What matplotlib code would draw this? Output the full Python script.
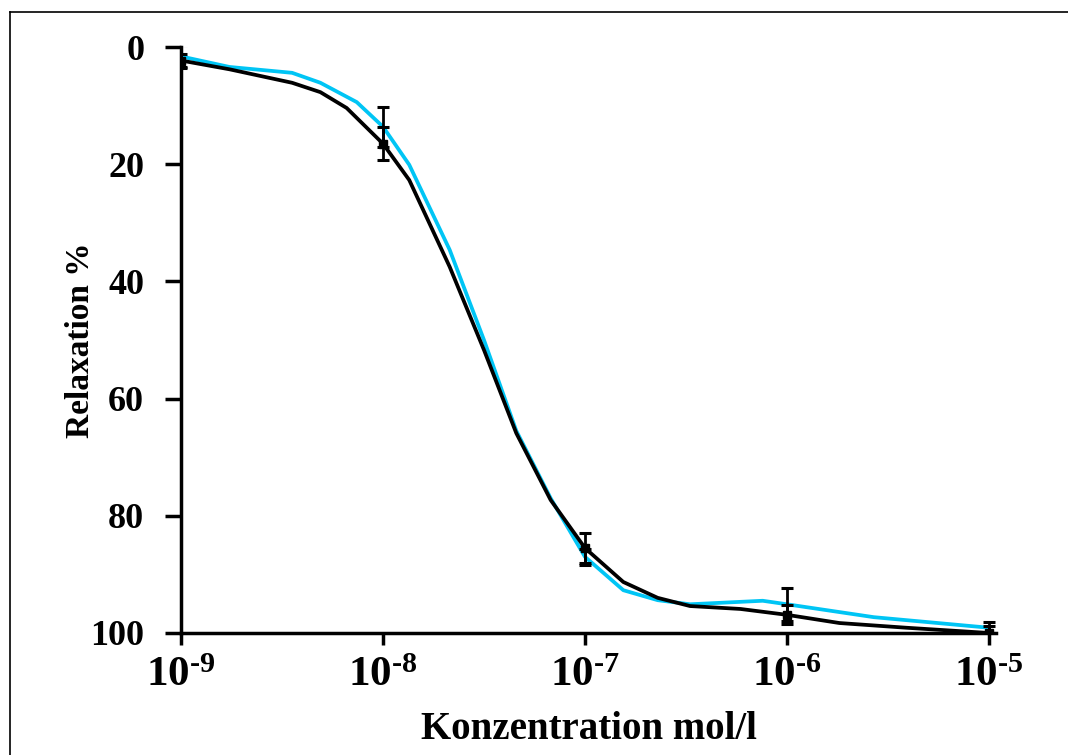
import numpy as np
import matplotlib
matplotlib.use("Agg")
import matplotlib.pyplot as plt
from matplotlib.lines import Line2D
from matplotlib.ticker import FixedLocator, FixedFormatter

# Curve points (log10 of concentration, relaxation %)
black_logc = [-9.0, -8.76, -8.45, -8.31, -8.18, -8.0, -7.87, -7.67, -7.50, -7.34,
              -7.17, -7.0, -6.81, -6.64, -6.48, -6.23, -6.0, -5.74, -5.41, -5.0]
black_rel = [2.3, 3.8, 6.1, 7.7, 10.4, 16.5, 22.7, 37.5, 51.7, 65.9,
             77.3, 85.5, 91.3, 94.0, 95.4, 95.9, 96.9, 98.3, 99.1, 100.0]

cyan_logc = [-9.0, -8.76, -8.45, -8.31, -8.13, -8.0, -7.87, -7.67, -7.50, -7.34,
             -7.17, -7.0, -6.81, -6.64, -6.48, -6.12, -6.0, -5.57, -5.0]
cyan_rel = [1.6, 3.4, 4.4, 6.1, 9.4, 13.6, 20.1, 34.6, 50.0, 65.5,
            77.0, 87.0, 92.7, 94.4, 95.1, 94.5, 95.1, 97.3, 99.1]

# Measured points with error bars
conc = [1e-9, 1e-8, 1e-7, 1e-6, 1e-5]
black_mean = [2.3, 16.5, 85.5, 96.9, 100.0]
black_err = [1.1, 2.8, 2.6, 1.6, 1.2]
cyan_mean = [1.6, 13.6, 87.0, 95.1, 99.1]
cyan_err = [2.0, 3.4, 1.4, 2.8, 0.9]

tick_vals = [1e-9, 1e-8, 1e-7, 1e-6, 1e-5]
tick_labels = ["$\\mathbf{10^{\u20109}}$", "$\\mathbf{10^{\u20108}}$", "$\\mathbf{10^{\u20107}}$",
               "$\\mathbf{10^{\u20106}}$", "$\\mathbf{10^{\u20105}}$"]

plt.rcParams["font.family"] = ["Liberation Serif", "DejaVu Serif"]
plt.rcParams["font.weight"] = "bold"
plt.rcParams["mathtext.fontset"] = "custom"
plt.rcParams["mathtext.rm"] = "Liberation Serif:bold"
plt.rcParams["mathtext.bf"] = "Liberation Serif:bold"

fig = plt.figure(figsize=(10.68, 7.55), dpi=100)
ax = fig.add_axes([0.1695, 0.1616, 0.763, 0.7761])

ax.plot(10 ** np.array(cyan_logc), cyan_rel, color="#00c5f5", lw=2.7, zorder=3)
ax.plot(10 ** np.array(black_logc), black_rel, color="black", lw=2.7, zorder=4)

ax.errorbar(conc, cyan_mean, yerr=cyan_err, fmt="none", ecolor="black",
            elinewidth=2, capsize=4.5, capthick=2.2, zorder=5)
ax.errorbar(conc, black_mean, yerr=black_err, fmt="s", color="black", ms=5.5,
            ecolor="black", elinewidth=2, capsize=4.5, capthick=2.2, zorder=6)

ax.set_xscale("log")
ax.set_xlim(1e-9, 1.083e-5)
ax.set_ylim(100, 0)
ax.xaxis.set_major_locator(FixedLocator(tick_vals))
ax.xaxis.set_major_formatter(FixedFormatter(tick_labels))
ax.xaxis.set_minor_locator(FixedLocator([]))
ax.set_yticks([0, 20, 40, 60, 80, 100])

ax.spines["top"].set_visible(False)
ax.spines["right"].set_visible(False)
ax.spines["left"].set_linewidth(2.5)
ax.spines["bottom"].set_linewidth(2.5)
ax.tick_params(axis="y", direction="out", length=11.5, width=2.5, labelsize=26, pad=15)
ax.tick_params(axis="x", direction="out", length=8.5, width=2.5, labelsize=31, pad=9)
for lab in ax.get_yticklabels():
    lab.set_fontweight("bold")

ax.set_xlabel("Konzentration mol/l", fontsize=28, fontweight="bold", labelpad=11)
ax.set_ylabel("Relaxation %", fontsize=24, fontweight="bold", labelpad=-4)

# frame lines (top and left)
fig.add_artist(Line2D([0.009, 1.0], [0.984, 0.984], color="black", lw=1.2,
                      transform=fig.transFigure))
fig.add_artist(Line2D([0.009, 0.009], [0.0, 0.984], color="black", lw=1.2,
                      transform=fig.transFigure))

fig.savefig("out.png", dpi=100)
